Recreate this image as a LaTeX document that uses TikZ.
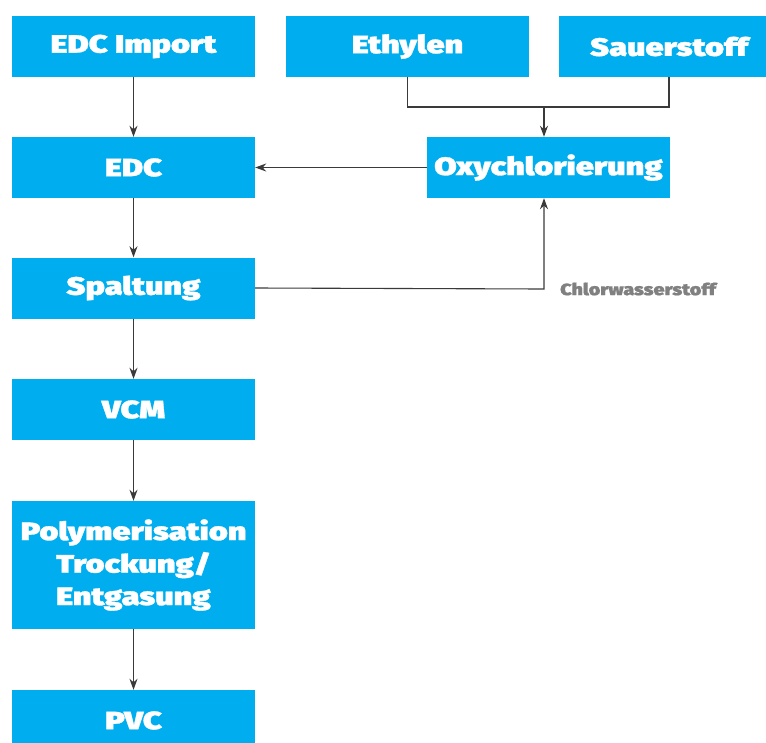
\documentclass[tikz,border=0pt]{standalone}
\usepackage{fontspec}
\usetikzlibrary{arrows.meta}
\newfontfamily\boxfont{Fira Sans Black}[FakeStretch=1.3, FakeBold=1.2]
\newfontfamily\labelfont{Fira Sans Black}[FakeStretch=1.2, FakeBold=0.8]
\definecolor{boxblue}{HTML}{00AEEF}
\definecolor{wiregray}{HTML}{3A3A3A}
\definecolor{labelgray}{HTML}{808080}

\begin{document}
\begin{tikzpicture}[x=1pt, y=-1pt,
	proc/.style={fill=boxblue, text=white, inner sep=0pt, minimum width=243pt, minimum height=61pt,
		align=center, font=\boxfont\fontsize{25}{32.5}\selectfont},
	wire/.style={draw=wiregray, line width=1.1pt},
	flow/.style={wire, -{Stealth[length=11pt, width=8pt, inset=3.5pt]}}]
	\useasboundingbox (0, 0) rectangle (766, 742);
	% Paths, nodes and wires:
	\node[proc] (Import) at (133.5, 46.5) {EDC Import};
	\node[proc] (Eth) at (407.5, 46.5) {Ethylen};
	\node[proc, minimum width=220pt] (Sauer) at (669, 46.5) {Sauerstoff};
	\node[proc] (EDC) at (133.5, 167.5) {EDC};
	\node[proc] (Oxy) at (548.5, 167.5) {Oxychlorierung};
	\node[proc] (Spalt) at (133.5, 288) {Spaltung};
	\node[proc] (VCM) at (133.5, 409.5) {VCM};
	\node[proc, minimum height=128pt] (Poly) at (133.5, 565) {Polymerisation\\Trockung/\\Entgasung};
	\node[proc] (PVC) at (133.5, 720.5) {PVC};
	\coordinate (Join) at (544, 107);
	\coordinate (HCl) at (544, 289);
	\node[anchor=west, text=labelgray, inner sep=0pt, font=\labelfont\fontsize{16.5}{18}\selectfont]
		(HClText) at (560, 289) {Chlorwasserstoff};
	\draw[flow] (Import) -- (EDC);
	\draw[flow] (EDC) -- (Spalt);
	\draw[flow] (Spalt) -- (VCM);
	\draw[flow] (VCM) -- (Poly);
	\draw[flow] (Poly) -- (PVC);
	\draw[wire] (Eth.south) |- (Join) -| (Sauer.south);
	\draw[flow] (Join) -- (Join |- Oxy.north);
	\draw[flow] (Oxy.west) -- (EDC.east);
	\draw[flow] (Spalt.east) -- (HCl) -- (HCl |- Oxy.south);
\end{tikzpicture}
\end{document}
